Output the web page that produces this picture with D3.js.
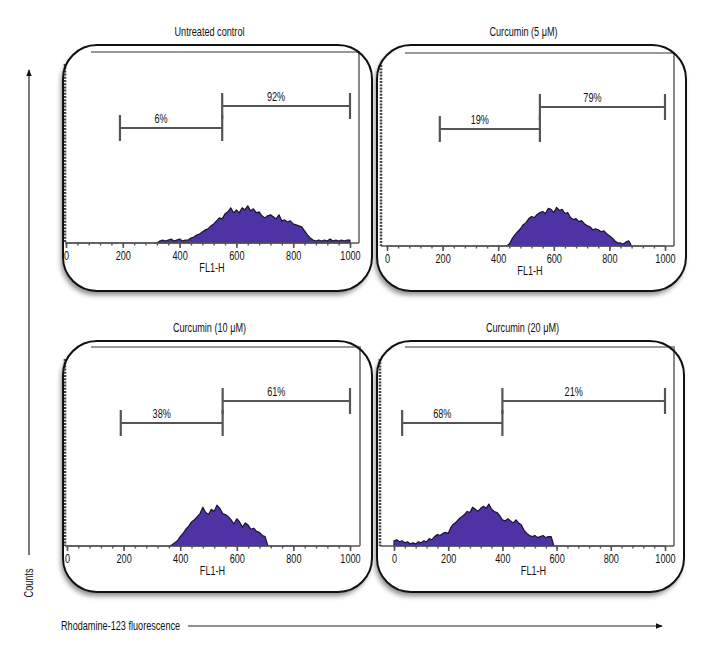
<!DOCTYPE html>
<html>
<head>
<meta charset="utf-8">
<script src="https://cdn.jsdelivr.net/npm/d3@7"></script>
<style>
  body { margin: 0; background: #fff; }
  svg { display: block; }
  text { font-family: "Liberation Sans", "Open Sans", sans-serif; fill: #111; }
</style>
</head>
<body>
<svg id="chart" width="720" height="660"></svg>
<script>
// FL1-H channel bins (0..1000, every 10)
const BINS = d3.range(0, 1001, 10);

const PANEL_TITLES = ["Untreated control", "Curcumin (5 μM)", "Curcumin (10 μM)", "Curcumin (20 μM)"];

// event counts per bin
const COUNTS_UNTREATED = [
  0, 0, 0, 0, 0, 0, 0, 0, 0, 0,
  0, 0, 0, 0, 0, 0, 0, 0, 0, 0,
  0, 0, 0, 0, 0, 0, 0, 0, 0, 0,
  0, 0, 0, 2, 3, 2, 3, 4, 2, 3,
  4, 2, 3, 3, 5, 6, 8, 9, 11, 13,
  14, 17, 19, 22, 25, 24, 29, 31, 35, 30,
  33, 30, 35, 33, 37, 32, 34, 30, 31, 27,
  25, 27, 28, 26, 24, 28, 22, 23, 21, 22,
  19, 18, 17, 16, 12, 8, 5, 3, 2, 3,
  2, 3, 2, 4, 2, 3, 2, 3, 2, 3,
  3
];
const COUNTS_CUR5 = [
  0, 0, 0, 0, 0, 0, 0, 0, 0, 0,
  0, 0, 0, 0, 0, 0, 0, 0, 0, 0,
  0, 0, 0, 0, 0, 0, 0, 0, 0, 0,
  0, 0, 0, 0, 0, 0, 0, 0, 0, 0,
  0, 0, 0, 0, 2, 7, 11, 14, 17, 21,
  23, 27, 29, 28, 31, 33, 34, 32, 37, 36,
  33, 38, 35, 36, 32, 33, 28, 26, 27, 24,
  25, 22, 20, 19, 16, 17, 16, 14, 15, 12,
  10, 8, 5, 3, 3, 2, 4, 5, 0, 0,
  0, 0, 0, 0, 0, 0, 0, 0, 0, 0,
  0
];
const COUNTS_CUR10 = [
  0, 0, 0, 0, 0, 0, 0, 0, 0, 0,
  0, 0, 0, 0, 0, 0, 0, 0, 0, 0,
  0, 0, 0, 0, 0, 0, 0, 0, 0, 0,
  0, 0, 0, 0, 0, 0, 0, 1, 3, 5,
  9, 12, 16, 19, 23, 25, 28, 31, 37, 32,
  30, 35, 33, 39, 36, 31, 30, 28, 25, 21,
  26, 23, 18, 22, 20, 16, 17, 14, 13, 10,
  9, 0, 0, 0, 0, 0, 0, 0, 0, 0,
  0, 0, 0, 0, 0, 0, 0, 0, 0, 0,
  0, 0, 0, 0, 0, 0, 0, 0, 0, 0,
  0
];
const COUNTS_CUR20 = [
  5, 6, 4, 5, 3, 4, 2, 3, 2, 4,
  3, 5, 4, 7, 6, 9, 11, 10, 12, 13,
  12, 18, 21, 23, 26, 28, 30, 33, 32, 37,
  35, 33, 36, 38, 36, 40, 35, 33, 32, 29,
  25, 24, 26, 24, 22, 25, 22, 20, 15, 12,
  10, 9, 10, 8, 9, 10, 8, 9, 9, 0,
  0, 0, 0, 0, 0, 0, 0, 0, 0, 0,
  0, 0, 0, 0, 0, 0, 0, 0, 0, 0,
  0, 0, 0, 0, 0, 0, 0, 0, 0, 0,
  0, 0, 0, 0, 0, 0, 0, 0, 0, 0,
  0
];
const PANEL_COUNTS = [COUNTS_UNTREATED, COUNTS_CUR5, COUNTS_CUR10, COUNTS_CUR20];

// marker gates [start, end] on FL1-H, low gate then high gate
const GATES = [
  [[190, 550], [550, 1000]],
  [[190, 550], [550, 1000]],
  [[190, 550], [550, 1000]],
  [[30, 400], [400, 1000]],
];
const GATE_LABELS = [
  ["6%", "92%"],
  ["19%", "79%"],
  ["38%", "61%"],
  ["68%", "21%"],
];

const X_TICKS = [0, 200, 400, 600, 800, 1000];
const X_MINOR_TICKS = d3.range(0, 1001, 40);
const Y_MAX = 190;

// panel geometry (pixels)
const LAYOUT = [
  { box: [63, 45, 372, 291], left: 65, right: 359, top: 52, base: 243, xr: [66, 350] },
  { box: [377, 45, 686, 291], left: 381, right: 674, top: 53, base: 246, xr: [387, 665] },
  { box: [63, 341, 372, 592], left: 65, right: 360, top: 347, base: 546, xr: [67, 350] },
  { box: [377, 341, 684, 592], left: 380, right: 674, top: 347, base: 546, xr: [394, 665] },
];

const FONT_SIZE = 12.5;
const SQUEEZE = 0.73; // the original uses a condensed face

const svg = d3.select("#chart");
const defs = svg.append("defs");

const shadow = defs.append("filter").attr("id", "shadow")
  .attr("x", "-10%").attr("y", "-10%").attr("width", "120%").attr("height", "125%");
shadow.append("feDropShadow")
  .attr("dx", -2).attr("dy", 4).attr("stdDeviation", 2.5)
  .attr("flood-color", "#000").attr("flood-opacity", 0.45);

defs.append("marker").attr("id", "arrow")
  .attr("viewBox", "0 0 10 10").attr("refX", 9).attr("refY", 5)
  .attr("markerWidth", 6).attr("markerHeight", 6).attr("orient", "auto")
  .append("path").attr("d", "M0,1 L10,5 L0,9 Z").attr("fill", "#111");

function label(parent, x, y, str, anchor = "middle", rotate = 0) {
  return parent.append("text")
    .attr("transform", `translate(${x},${y}) rotate(${rotate}) scale(${SQUEEZE},1)`)
    .attr("text-anchor", anchor)
    .attr("font-size", FONT_SIZE)
    .text(str);
}

PANEL_TITLES.forEach((title, i) => {
  const L = LAYOUT[i];
  const [bx0, by0, bx1, by1] = L.box;
  const g = svg.append("g");

  const x = d3.scaleLinear().domain([0, 1000]).range(L.xr);
  const y = d3.scaleLinear().domain([0, Y_MAX]).range([L.base, L.top]);

  g.append("rect")
    .attr("x", bx0).attr("y", by0)
    .attr("width", bx1 - bx0).attr("height", by1 - by0)
    .attr("rx", 34).attr("ry", 34)
    .attr("fill", "#fff")
    .attr("filter", "url(#shadow)");

  // plot frame: top and right lines
  g.append("line")
    .attr("x1", bx0 + 28).attr("x2", L.right + 1)
    .attr("y1", L.top).attr("y2", L.top)
    .attr("stroke", "#999").attr("stroke-width", 2.2);
  g.append("line")
    .attr("x1", L.right).attr("x2", L.right)
    .attr("y1", L.top).attr("y2", L.base)
    .attr("stroke", "#888").attr("stroke-width", 2);

  // histogram
  const series = BINS.map((bin, k) => ({ bin, v: PANEL_COUNTS[i][k] }))
    .filter((d) => x(d.bin) <= L.right);
  const area = d3.area()
    .x((d) => x(d.bin))
    .y0(L.base)
    .y1((d) => y(d.v));
  g.append("path")
    .datum(series)
    .attr("d", area)
    .attr("fill", "#4d33a3")
    .attr("stroke", "#1d1233")
    .attr("stroke-width", 1.2)
    .attr("stroke-linejoin", "round");

  // baseline + ticks
  g.append("line")
    .attr("x1", L.left).attr("x2", L.right)
    .attr("y1", L.base).attr("y2", L.base)
    .attr("stroke", "#555").attr("stroke-width", 1.4);

  const minor = g.append("g")
    .attr("transform", `translate(0,${L.base})`)
    .call(d3.axisBottom(x).tickValues(X_MINOR_TICKS).tickSize(2.5).tickFormat(""));
  minor.select(".domain").remove();
  minor.selectAll("line").attr("stroke", "#555").attr("stroke-width", 1.4);

  const major = g.append("g")
    .attr("transform", `translate(0,${L.base})`)
    .call(d3.axisBottom(x).tickValues(X_TICKS).tickSize(5).tickPadding(3).tickFormat(d3.format("d")));
  major.select(".domain").remove();
  major.selectAll("line").attr("stroke", "#555").attr("stroke-width", 1.6);
  major.selectAll("text")
    .attr("font-size", FONT_SIZE)
    .attr("font-family", null)
    .attr("fill", "#111")
    .attr("transform", `scale(${SQUEEZE},1)`);

  // left counts axis (dense ticks)
  g.append("line")
    .attr("x1", L.left).attr("x2", L.left)
    .attr("y1", L.top + 12).attr("y2", L.base)
    .attr("stroke", "#444").attr("stroke-width", 2.6)
    .attr("stroke-dasharray", "2,1.2");

  // gates
  const gateOffsets = [76, 54];
  GATES[i].forEach(([a, b], j) => {
    const gy = L.top + gateOffsets[j];
    const gg = g.append("g").attr("stroke", "#555").attr("stroke-width", 2.2);
    gg.append("line").attr("x1", x(a)).attr("x2", x(b)).attr("y1", gy).attr("y2", gy);
    gg.append("line").attr("x1", x(a)).attr("x2", x(a)).attr("y1", gy - 13).attr("y2", gy + 13);
    gg.append("line").attr("x1", x(b)).attr("x2", x(b)).attr("y1", gy - 13).attr("y2", gy + 13);
    label(g, (x(a) + x(b)) / 2 - 10, gy - 5, GATE_LABELS[i][j]);
  });

  label(g, (L.xr[0] + L.xr[1]) / 2 + 4, L.base + 29, "FL1-H");
  label(g, (bx0 + bx1) / 2 - 8, by0 - 9, title);

  g.append("rect")
    .attr("x", bx0).attr("y", by0)
    .attr("width", bx1 - bx0).attr("height", by1 - by0)
    .attr("rx", 34).attr("ry", 34)
    .attr("fill", "none")
    .attr("stroke", "#111").attr("stroke-width", 2);
});

// outer axes
svg.append("line")
  .attr("x1", 29).attr("x2", 29).attr("y1", 555).attr("y2", 70)
  .attr("stroke", "#222").attr("stroke-width", 1.2)
  .attr("marker-end", "url(#arrow)");
label(svg, 33, 583, "Counts", "middle", -90);

label(svg, 61, 630, "Rhodamine-123 fluorescence", "start");
svg.append("line")
  .attr("x1", 188).attr("x2", 662).attr("y1", 626).attr("y2", 626)
  .attr("stroke", "#222").attr("stroke-width", 1.2)
  .attr("marker-end", "url(#arrow)");
</script>
</body>
</html>
